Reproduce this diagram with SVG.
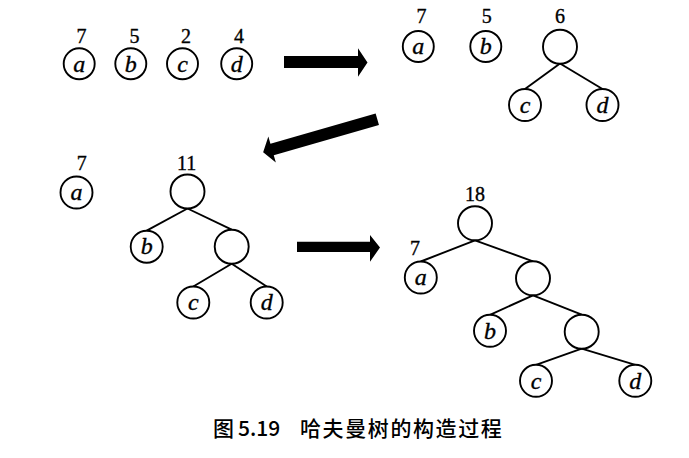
<svg xmlns="http://www.w3.org/2000/svg" width="689" height="458" viewBox="0 0 689 458">
<style>
  .n { fill: #fff; stroke: #000; stroke-width: 1.9; }
  .e { stroke: #000; stroke-width: 1.9; fill: none; }
  .lt { font-family: "Liberation Serif", "Times New Roman", serif; font-style: italic; font-size: 24px; text-anchor: middle; fill: #000; stroke: #000; stroke-width: 0.35; }
  .w { font-family: "Liberation Serif", "Times New Roman", serif; font-size: 20px; text-anchor: middle; fill: #000; stroke: #000; stroke-width: 0.35; }
  .arr { fill: #000; stroke: none; }
  .cap { font-family: "Noto Sans CJK SC", "Noto Sans", sans-serif; font-size: 21px; fill: #000; font-weight: 500; }
</style>
<rect width="689" height="458" fill="#fff"/>

<g id="connectors">
  <!-- state 2 -->
  <line class="e" x1="560" y1="63.5" x2="525" y2="89"/>
  <line class="e" x1="560" y1="63.5" x2="602.5" y2="89"/>
  <!-- state 3 -->
  <line class="e" x1="187.5" y1="208.5" x2="146.7" y2="230.7"/>
  <line class="e" x1="187.5" y1="208.5" x2="231.7" y2="229.7"/>
  <line class="e" x1="231.7" y1="263.7" x2="193.3" y2="286.5"/>
  <line class="e" x1="231.7" y1="263.7" x2="266.7" y2="286.5"/>
  <!-- state 4 -->
  <line class="e" x1="475" y1="240.3" x2="420.8" y2="261.5"/>
  <line class="e" x1="475" y1="240.3" x2="533" y2="261.3"/>
  <line class="e" x1="533" y1="295.3" x2="490" y2="314.8"/>
  <line class="e" x1="533" y1="295.3" x2="581.7" y2="314.7"/>
  <line class="e" x1="581.7" y1="348.7" x2="536" y2="364.8"/>
  <line class="e" x1="581.7" y1="348.7" x2="635.3" y2="364.8"/>
</g>

<g id="transitions">
  <polygon class="arr" points="284,56 358,56 358,48.3 367.5,62.5 358,76.7 358,68 284,68"/>
  <polygon class="arr" transform="translate(377.3,119.2) rotate(163.9)" points="0,-6 109.5,-6 109.5,-13.5 118.8,0 109.5,13.5 109.5,6 0,6"/>
  <polygon class="arr" points="297,241.7 370,241.7 370,235 380,247.5 370,261.7 370,252 297,252"/>
</g>

<!-- state 1 -->
<g id="s1-a"><text class="w" x="81.5" y="43">7</text><circle class="n" cx="79.2" cy="63.8" r="15.5"/><text class="lt" x="79.2" y="71.5">a</text></g>
<g id="s1-b"><text class="w" x="134.5" y="43">5</text><circle class="n" cx="130.8" cy="63.8" r="15.5"/><text class="lt" x="130.8" y="71.5">b</text></g>
<g id="s1-c"><text class="w" x="186" y="43">2</text><circle class="n" cx="182.5" cy="63.8" r="15.5"/><text class="lt" x="182.5" y="71.5">c</text></g>
<g id="s1-d"><text class="w" x="239" y="43">4</text><circle class="n" cx="236.7" cy="63.8" r="15.5"/><text class="lt" x="236.7" y="71.5">d</text></g>

<!-- state 2 -->
<g id="s2-a"><text class="w" x="421.5" y="23">7</text><circle class="n" cx="418.3" cy="46.5" r="15.5"/><text class="lt" x="418.3" y="54.2">a</text></g>
<g id="s2-b"><text class="w" x="486.7" y="23">5</text><circle class="n" cx="485.8" cy="46.5" r="15.5"/><text class="lt" x="485.8" y="54.2">b</text></g>
<g id="s2-root"><text class="w" x="560" y="23">6</text><circle class="n" cx="560" cy="46.7" r="17"/></g>
<g id="s2-c"><circle class="n" cx="525" cy="105" r="16"/><text class="lt" x="525" y="112.7">c</text></g>
<g id="s2-d"><circle class="n" cx="602.5" cy="105" r="16"/><text class="lt" x="602.5" y="112.7">d</text></g>

<!-- state 3 -->
<g id="s3-a"><text class="w" x="81.7" y="170">7</text><circle class="n" cx="76.5" cy="192.5" r="16"/><text class="lt" x="76.5" y="200.2">a</text></g>
<g id="s3-root"><text class="w" x="186.7" y="170">11</text><circle class="n" cx="187.5" cy="191.5" r="17"/></g>
<g id="s3-b"><circle class="n" cx="146.7" cy="246.7" r="16"/><text class="lt" x="146.7" y="254.4">b</text></g>
<g id="s3-int"><circle class="n" cx="231.7" cy="246.7" r="17"/></g>
<g id="s3-c"><circle class="n" cx="193.3" cy="302.5" r="16"/><text class="lt" x="193.3" y="310.2">c</text></g>
<g id="s3-d"><circle class="n" cx="266.7" cy="302.5" r="16"/><text class="lt" x="266.7" y="310.2">d</text></g>

<!-- state 4 -->
<g id="s4-root"><text class="w" x="475" y="201">18</text><circle class="n" cx="475" cy="223.3" r="17"/></g>
<g id="s4-a"><text class="w" x="415" y="255">7</text><circle class="n" cx="420.8" cy="277.5" r="16"/><text class="lt" x="420.8" y="285.2">a</text></g>
<g id="s4-int1"><circle class="n" cx="533" cy="278.3" r="17"/></g>
<g id="s4-b"><circle class="n" cx="490" cy="330.8" r="16"/><text class="lt" x="490" y="338.5">b</text></g>
<g id="s4-int2"><circle class="n" cx="581.7" cy="331.7" r="17"/></g>
<g id="s4-c"><circle class="n" cx="536" cy="380.8" r="16"/><text class="lt" x="536" y="388.5">c</text></g>
<g id="s4-d"><circle class="n" cx="635.3" cy="380.8" r="16"/><text class="lt" x="635.3" y="388.5">d</text></g>

<g id="caption">
  <text class="cap" x="213" y="436">图</text>
  <text class="cap" x="238" y="436">5.19</text>
  <text class="cap" x="300" y="436" letter-spacing="1.6">哈夫曼树的构造过程</text>
</g>
</svg>
